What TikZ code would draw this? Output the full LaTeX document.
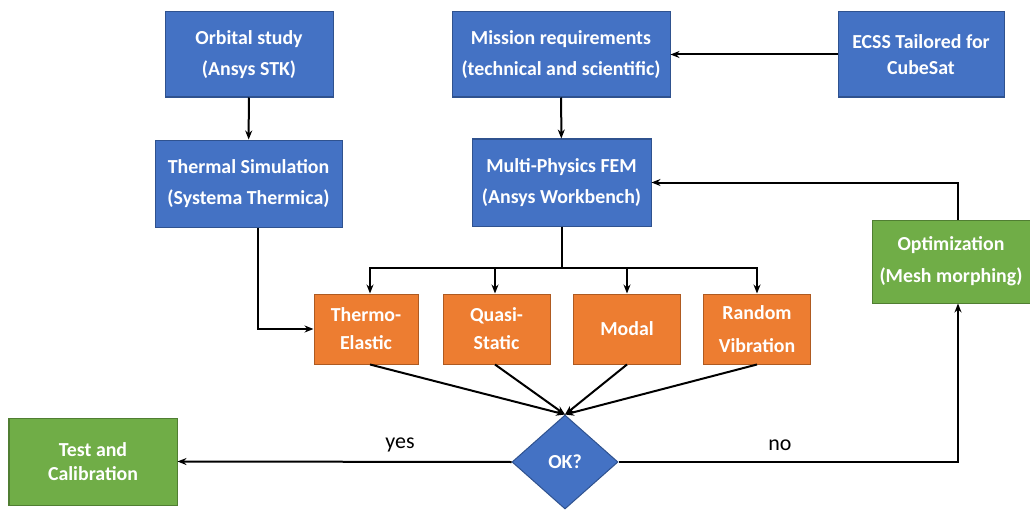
\documentclass[tikz,border=0pt]{standalone}
\usepackage{fontspec}
\setmainfont{Carlito}
\usetikzlibrary{shapes.geometric,arrows.meta}
\definecolor{boxblue}{HTML}{4472C4}
\definecolor{edgeblue}{HTML}{2F528F}
\definecolor{boxorange}{HTML}{ED7D31}
\definecolor{edgeorange}{HTML}{AE5A21}
\definecolor{boxgreen}{HTML}{70AD47}
\definecolor{edgegreen}{HTML}{507E32}
\tikzset{
  stepbox/.style={rectangle, line width=0.02cm, text=white, align=center,
    font=\bfseries\fontsize{11.3}{18}\selectfont, inner sep=0pt},
  bluebox/.style={stepbox, fill=boxblue, draw=edgeblue},
  orangebox/.style={stepbox, fill=boxorange, draw=edgeorange,
    minimum width=2.14cm, minimum height=1.40cm,
    font=\bfseries\fontsize{11.3}{16}\selectfont},
  greenbox/.style={stepbox, fill=boxgreen, draw=edgegreen},
  flow/.style={line width=0.04cm, -{Stealth[length=0.18cm,width=0.14cm]}},
  plainline/.style={line width=0.04cm}
}
\begin{document}
\begin{tikzpicture}
                    \useasboundingbox (0,0) rectangle (20.600000,10.180000);

                    % Marking box orbit
                    \node [bluebox, minimum width=3.36cm, minimum height=1.70cm] (orbit) at (4.980000,9.090000) {Orbital study\\(Ansys STK)};%

                    % Marking box mission
                    \node [bluebox, minimum width=4.36cm, minimum height=1.70cm] (mission) at (11.220000,9.090000) {Mission requirements\\(technical and scientific)};%

                    % Marking box ecss
                    \node [bluebox, minimum width=3.32cm, minimum height=1.70cm,
                           font=\bfseries\fontsize{11.3}{15}\selectfont] (ecss) at (18.420000,9.090000) {ECSS Tailored for\\CubeSat};%

                    % Marking box thermal
                    \node [bluebox, minimum width=3.74cm, minimum height=1.74cm] (thermal) at (4.970000,6.510000) {Thermal Simulation\\(Systema Thermica)};%

                    % Marking box fem
                    \node [bluebox, minimum width=3.58cm, minimum height=1.74cm] (fem) at (11.230000,6.530000) {Multi-Physics FEM\\(Ansys Workbench)};%

                    % Marking box optim
                    \node [greenbox, minimum width=3.16cm, minimum height=1.66cm] (optim) at (19.020000,4.950000) {Optimization\\(Mesh morphing)};%

                    % Marking analysis boxes
                    \node [orangebox, minimum width=2.08cm] (thermo) at (7.320000,3.600000) {Thermo-\\Elastic};%
                    \node [orangebox] (quasi) at (9.930000,3.600000) {Quasi-\\Static};%
                    \node [orangebox] (modal) at (12.540000,3.600000) {Modal};%
                    \node [orangebox, font=\bfseries\fontsize{11.3}{19}\selectfont] (random) at (15.140000,3.600000) {Random\\Vibration};%

                    % Marking decision ok
                    \node [diamond, fill=boxblue, draw=edgeblue, line width=0.02cm, text=white,
                           font=\bfseries\fontsize{11.3}{13}\selectfont, inner sep=0pt,
                           minimum width=2.12cm, minimum height=1.88cm] (ok) at (11.300000,0.940000) {OK?};%

                    % Marking box test
                    \node [greenbox, minimum width=3.36cm, minimum height=1.74cm,
                           font=\bfseries\fontsize{11.3}{14}\selectfont] (test) at (1.860000,0.950000) {Test and\\Calibration};%

                    % Branch point under fem
                    \coordinate (split) at (11.230000,4.820000);%

                    % Drawing arrows between top boxes
                    \draw [flow] (orbit) -- (thermal);%
                    \draw [flow] (ecss) -- (mission);%
                    \draw [flow] (mission) -- (fem);%

                    % Drawing branches from fem
                    \draw [plainline] (fem) -- (split);%
                    \draw [flow] (split) -| ([xshift=0.08cm]thermo.north);%
                    \draw [flow] (split) -| ([xshift=-0.03cm]quasi.north);%
                    \draw [flow] (split) -| (modal.north);%
                    \draw [flow] (split) -| (random.north);%

                    % Drawing thermal load path
                    \draw [flow] ([xshift=0.19cm]thermal.south) |- (thermo.west);%

                    % Drawing analyses into decision
                    \draw [flow] ([xshift=0.08cm]thermo.south) -- (ok.north);%
                    \draw [flow] ([xshift=-0.03cm]quasi.south) -- (ok.north);%
                    \draw [flow] (modal.south) -- (ok.north);%
                    \draw [flow] (random.south) -- (ok.north);%

                    % Drawing yes and no branches
                    \draw [flow] (ok.west) -- (test.east);%
                    \draw [flow] (ok.east) -| ([xshift=0.14cm]optim.south);%
                    \draw [flow] ([xshift=0.14cm]optim.north) |- (fem.east);%

                    % Marking labels yes and no
                    \node [font=\fontsize{12.5}{14}\selectfont] (yes) at (8.000000,1.280000) {yes};%
                    \node [font=\fontsize{12.5}{14}\selectfont] (no) at (15.600000,1.280000) {no};%
\end{tikzpicture}
\end{document}
